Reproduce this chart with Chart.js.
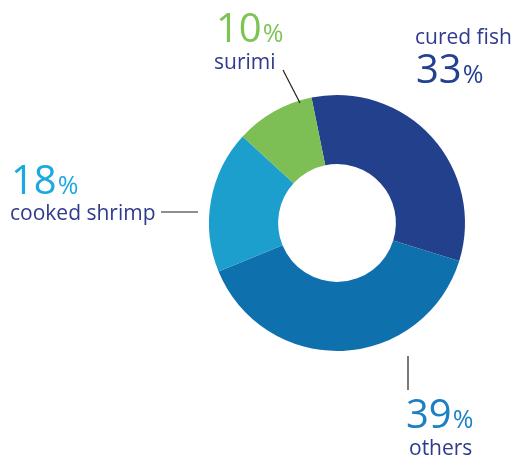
<!DOCTYPE html>
<html>
<head>
<meta charset="utf-8">
<script src="https://cdn.jsdelivr.net/npm/chart.js@4/dist/chart.umd.min.js"></script>
<style>
	body { margin: 0; background: #ffffff; }
	canvas { display: block; }
</style>
</head>
<body>
<canvas id="chart" width="514" height="459"></canvas>
<script>
// Chart data
const categories = ["cured fish", "others", "cooked shrimp", "surimi"];
const shares = [33, 39, 18, 10];
const sliceColors = ["#22408b", "#0f70ae", "#1c9fcd", "#7dbf54"];
const pctColors = ["#22428f", "#1c80c4", "#1ca8e0", "#7dc454"];

// Label placement (text anchor = left/baseline), leader lines
const labelLayout = [
	{ name: [415, 44], pct: [416, 83], line: null },
	{ name: [409, 455], pct: [406, 428], line: [[408, 356], [408, 390]] },
	{ name: [10, 220], pct: [11, 194], line: [[161, 212], [198, 212]] },
	{ name: [214, 69], pct: [216, 42], line: [[283, 70], [300, 103]] },
];

const FONT = '"Open Sans", "Noto Sans", sans-serif';

const labelsPlugin = {
	id: "sliceLabels",
	afterDraw(chart) {
		const ctx = chart.ctx;
		ctx.save();
		ctx.textBaseline = "alphabetic";
		ctx.textAlign = "left";
		categories.forEach((name, i) => {
			const lay = labelLayout[i];
			// category name
			ctx.fillStyle = "#2f3a8d";
			ctx.font = "21px " + FONT;
			ctx.fillText(name, lay.name[0], lay.name[1]);
			// percentage: big number + smaller %
			ctx.fillStyle = pctColors[i];
			ctx.font = "40px " + FONT;
			const num = String(shares[i]);
			ctx.fillText(num, lay.pct[0], lay.pct[1]);
			const w = ctx.measureText(num).width;
			ctx.font = "25px " + FONT;
			ctx.fillText("%", lay.pct[0] + w + 1, lay.pct[1]);
			// leader line
			if (lay.line) {
				ctx.strokeStyle = "#231f20";
				ctx.lineWidth = 1.2;
				ctx.beginPath();
				ctx.moveTo(lay.line[0][0], lay.line[0][1]);
				ctx.lineTo(lay.line[1][0], lay.line[1][1]);
				ctx.stroke();
			}
		});
		ctx.restore();
	},
};

new Chart(document.getElementById("chart"), {
	type: "doughnut",
	data: {
		labels: categories,
		datasets: [
			{
				data: shares,
				backgroundColor: sliceColors,
				borderWidth: 0,
			},
		],
	},
	options: {
		responsive: false,
		animation: false,
		rotation: -11.5,
		cutout: "46%",
		layout: {
			padding: { left: 209, right: 49, top: 95, bottom: 108 },
		},
		plugins: {
			legend: { display: false },
			tooltip: { enabled: false },
		},
	},
	plugins: [labelsPlugin],
});
</script>
</body>
</html>
